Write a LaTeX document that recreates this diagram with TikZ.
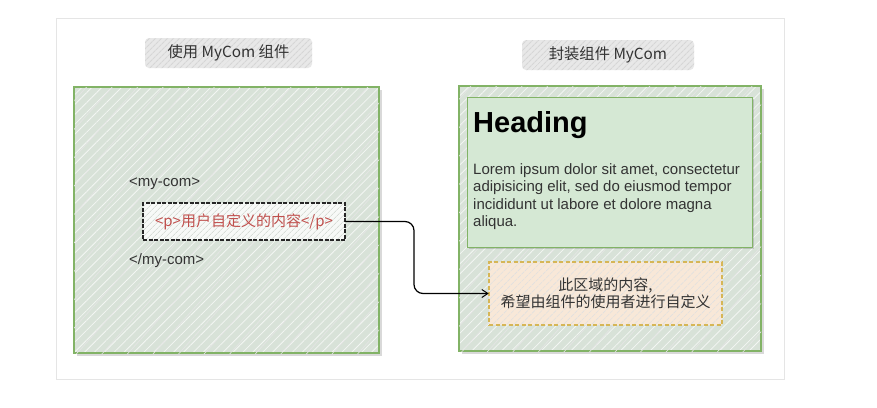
\documentclass[tikz,border=0pt]{standalone}
\usepackage{fontspec}
\setmainfont{Liberation Sans}
\newfontfamily\cjk{Noto Sans CJK SC}
\usetikzlibrary{patterns.meta,shadows,arrows.meta}
\definecolor{grn}{HTML}{82B366}
\definecolor{boxfill}{HTML}{D8E2D8}
\definecolor{headfill}{HTML}{D5E8D4}
\definecolor{orfill}{HTML}{F8E8D8}
\definecolor{orline}{HTML}{D6B656}
\definecolor{redtxt}{HTML}{C0504D}
\definecolor{txt}{HTML}{333333}
\tikzset{
  hatchbox/.style={
    drop shadow={shadow xshift=2.5pt, shadow yshift=-2.5pt, opacity=0.15, fill=black},
    draw=grn, line width=1.2pt,
    preaction={fill=boxfill},
    pattern={Lines[angle=45,distance=7pt,line width=0.8pt]}, pattern color=white!70!boxfill,
    postaction={pattern={Lines[angle=48,distance=19pt,line width=0.6pt,xshift=3pt]}, pattern color=black!10}},
  headbox/.style={
    drop shadow={shadow xshift=2pt, shadow yshift=-2pt, opacity=0.15, fill=black},
    draw=grn, line width=1pt, fill=headfill},
  titlebg/.style={minimum width=#1, minimum height=30pt, rounded corners=4pt,
    preaction={fill=black!9},
    pattern={Lines[angle=45,distance=4pt,line width=1.2pt]}, pattern color=black!16,
    font=\cjk\fontsize{15.3}{18}\selectfont, text=txt},
  slotbox/.style={draw=black!85, line width=1.1pt, dash pattern=on 4pt off 1.5pt,
    preaction={fill=white!80!boxfill},
    pattern={Lines[angle=45,distance=4pt,line width=0.6pt]}, pattern color=boxfill!80!gray,
    minimum width=202pt, minimum height=37pt,
    font=\cjk\fontsize{15}{17}\selectfont, text=redtxt},
  orbox/.style={draw=orline, line width=1.2pt, dash pattern=on 4pt off 2.5pt,
    preaction={fill=orfill},
    pattern={Lines[angle=45,distance=5pt,line width=0.6pt]}, pattern color=black!12,
    minimum width=233pt, minimum height=63pt, align=center,
    font=\cjk\fontsize{15}{17.5}\selectfont, text=txt},
  plain/.style={font=\fontsize{15}{17.5}\selectfont, text=txt, inner sep=0pt},
  conn/.style={draw=black, line width=1.2pt, rounded corners=9pt,
    -{Straight Barb[length=6pt,width=8pt,line width=1pt]}}
}
\begin{document}
\begin{tikzpicture}[x=1pt,y=-1pt]
\useasboundingbox (0,0) rectangle (877,407);
\fill[white] (0,0) rectangle (877,407);
\node[draw=black!10, line width=0.8pt, minimum width=728pt, minimum height=361pt] (card) at (420,198.5) {};

% titles
\node[titlebg=167pt] (t1) at (228.5,53) {使用 MyCom 组件};
\node[titlebg=172pt] (t2) at (608,55) {封装组件 MyCom};

% left box
\node[hatchbox, minimum width=305pt, minimum height=266pt] (lbox) at (226.5,220) {};
\node[plain, anchor=base west] (open) at (129,186) {<my-com>};
\node[slotbox] (slot) at (244,221.5) {<p>用户自定义的内容</p>};
\node[plain, anchor=base west] (close) at (129,264) {</my-com>};

% right box
\node[hatchbox, minimum width=302pt, minimum height=265pt] (rbox) at (610,218.5) {};
\node[headbox, minimum width=285pt, minimum height=150pt] (head) at (609.5,172) {};
\node[anchor=base west, inner sep=0pt, font=\bfseries\fontsize{29}{32}\selectfont, text=black] (htitle) at (473,132) {Heading};
\node[plain, anchor=north west, align=left] (lorem) at (473,163) {Lorem ipsum dolor sit amet, consectetur\\adipisicing elit, sed do eiusmod tempor\\incididunt ut labore et dolore magna\\aliqua.};
\node[orbox] (slotarea) at (605.5,293.5) {此区域的内容,\\希望由组件的使用者进行自定义};

% connector
\coordinate (c1) at (414,221.5);
\coordinate (c2) at (414,293.5);
\draw[conn] (slot.east) -- (c1) -- (c2) -- (slotarea.west);
\end{tikzpicture}
\end{document}
